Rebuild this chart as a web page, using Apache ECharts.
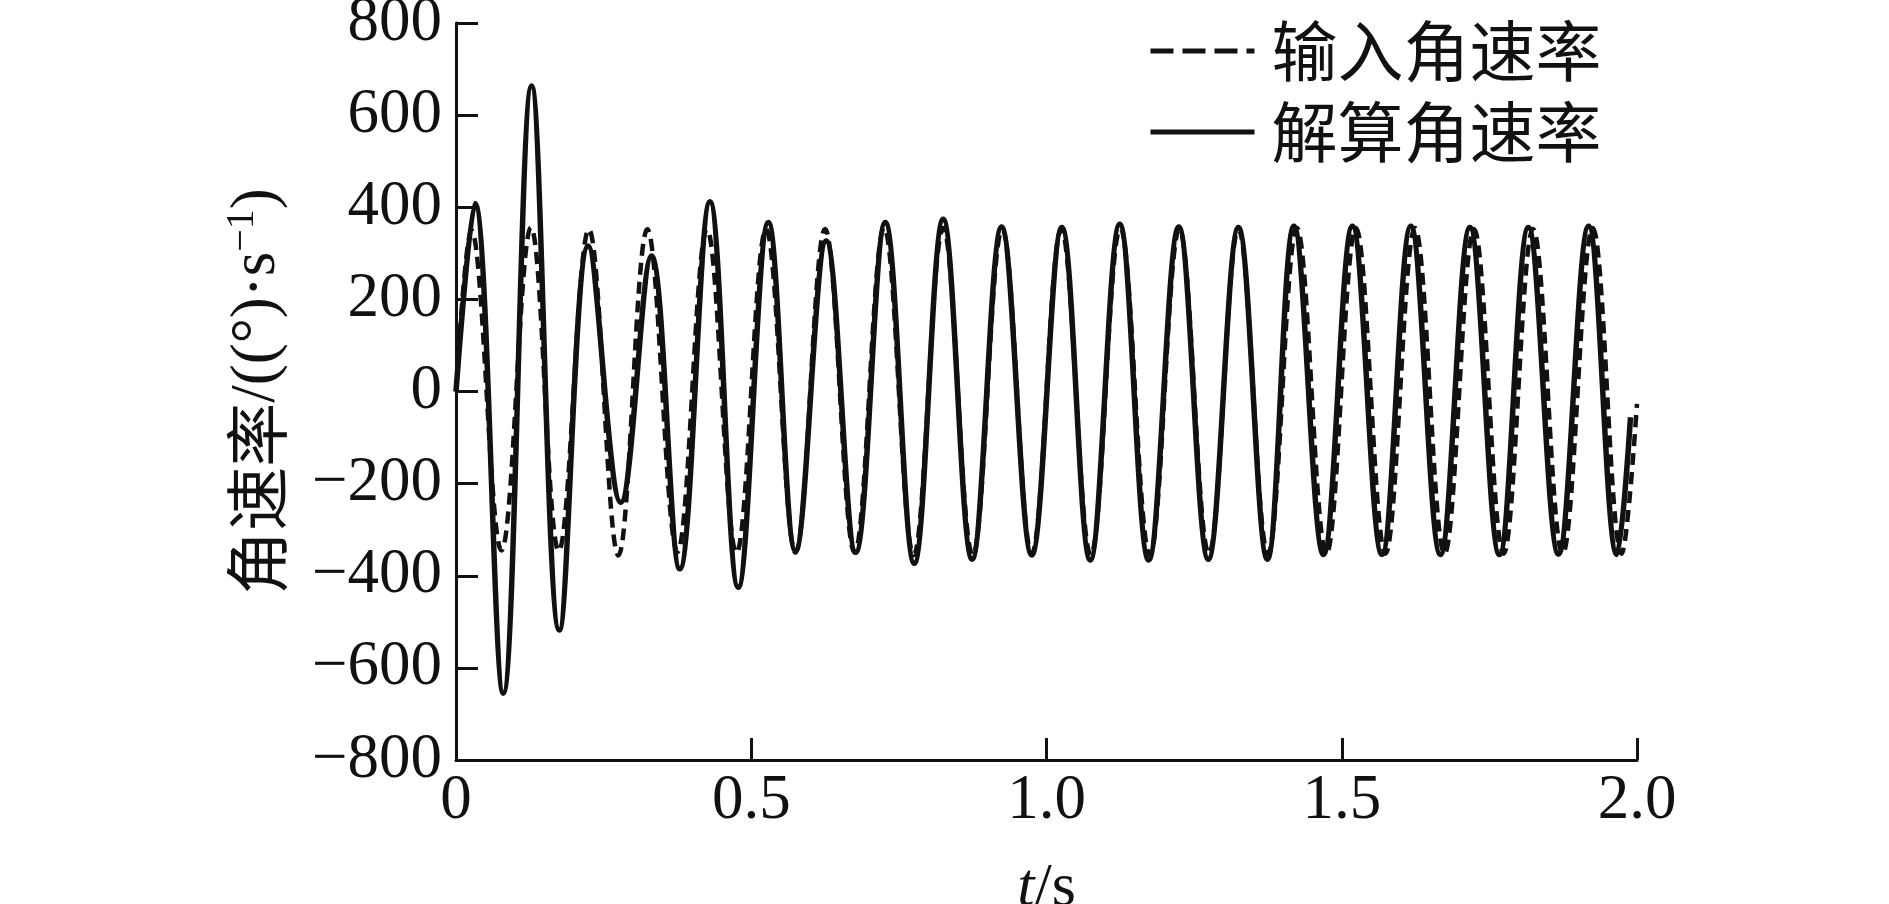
<!DOCTYPE html>
<html><head><meta charset="utf-8">
<script src="https://cdn.jsdelivr.net/npm/echarts@6/dist/echarts.min.js"></script>
<style>html,body{margin:0;padding:0;background:#fff}#c{width:1889px;height:904px}</style>
</head><body><div id="c"></div>
<script>
// series names
const seriesNames = ['输入角速率', '解算角速率'];
// input angular rate (dashed): times (s) and values (°/s) at read extremes
const inputT = [0, 0.026, 0.077, 0.127, 0.174, 0.225, 0.275, 0.324, 0.375, 0.425, 0.475, 0.525, 0.575, 0.625, 0.675, 0.725, 0.775, 0.825, 0.875, 0.925, 0.975, 1.025, 1.075, 1.125, 1.175, 1.225, 1.275, 1.325, 1.375, 1.424, 1.474, 1.524, 1.574, 1.624, 1.674, 1.724, 1.774, 1.824, 1.874, 1.925, 1.974, 2.0];
const inputV = [0, 350, -345, 356, -346, 352, -356, 352, -348, 352, -350, 352, -350, 353, -350, 355, -355, 355, -355, 352, -352, 352, -355, 355, -355, 352, -352, 352, -352, 355, -352, 355, -352, 355, -352, 353, -352, 353, -352, 355, -352, -27];
// solved angular rate (solid)
const solidT = [0, 0.032, 0.080, 0.128, 0.175, 0.224, 0.279, 0.331, 0.379, 0.430, 0.478, 0.529, 0.575, 0.627, 0.677, 0.727, 0.776, 0.825, 0.874, 0.924, 0.975, 1.026, 1.074, 1.124, 1.173, 1.224, 1.274, 1.325, 1.374, 1.419, 1.469, 1.518, 1.568, 1.617, 1.667, 1.717, 1.767, 1.816, 1.867, 1.918, 1.966, 1.989];
const solidV = [0, 408, -655, 663, -518, 316, -241, 294, -385, 412, -425, 367, -346, 327, -349, 367, -373, 374, -364, 357, -355, 356, -366, 363, -366, 357, -364, 356, -364, 359, -354, 359, -354, 359, -354, 356, -354, 356, -353, 359, -354, -56];
// tick values and labels
const xTicks = [0, 0.5, 1.0, 1.5, 2.0];
const xTickLabels = ['0', '0.5', '1.0', '1.5', '2.0'];
const yTicks = [-800, -600, -400, -200, 0, 200, 400, 600, 800];
const yTickLabels = ['\u2212800', '\u2212600', '\u2212400', '\u2212200', '0', '200', '400', '600', '800'];

const zip = (a, b) => a.map((t, i) => [t, b[i]]);
const lab = (ticks, labels) => v => {
  const i = ticks.findIndex(t => Math.abs(t - v) < 1e-9);
  return i >= 0 ? labels[i] : '';
};
const SERIF = "'Liberation Serif', 'Noto Sans CJK SC', serif";
const CJK = "'Noto Sans CJK SC', 'Liberation Serif', sans-serif";
const INK = '#111';
const hidden = {opacity: 0, color: 'rgba(0,0,0,0)', borderWidth: 0};

const chart = echarts.init(document.getElementById('c'), null, {renderer: 'canvas'});
chart.setOption({
  animation: false,
  backgroundColor: '#fff',
  color: [INK, INK],
  grid: {left: 456, right: 252, top: 23, bottom: 144, containLabel: false, outerBoundsMode: 'none'},
  legend: {
    orient: 'vertical', left: 1143, top: 13, itemWidth: 104, itemHeight: 20, itemGap: 15,
    align: 'left',
    itemStyle: hidden,
    textStyle: {fontFamily: CJK, fontSize: 66, color: INK, lineHeight: 66, padding: [0, 0, 0, 12]},
    data: [
      {name: seriesNames[0], itemStyle: hidden, lineStyle: {type: [23, 9], width: 5, color: INK}},
      {name: seriesNames[1], itemStyle: hidden, lineStyle: {width: 5, color: INK}}
    ]
  },
  xAxis: {
    type: 'value', min: 0, max: 2, interval: 0.5,
    axisLine: {show: true, onZero: false, lineStyle: {color: INK, width: 3}},
    axisTick: {show: true, inside: true, length: 22, lineStyle: {color: INK, width: 3}},
    splitLine: {show: false},
    axisLabel: {formatter: lab(xTicks, xTickLabels), fontFamily: SERIF, fontSize: 63, color: INK, margin: 10},
    name: '{i|t}{n|/s}', nameLocation: 'middle', nameGap: 98,
    nameTextStyle: {
      color: INK,
      rich: {
        i: {fontFamily: SERIF, fontSize: 62, fontStyle: 'italic', color: INK},
        n: {fontFamily: SERIF, fontSize: 62, color: INK}
      }
    }
  },
  yAxis: {
    type: 'value', min: -800, max: 800, interval: 200,
    axisLine: {show: true, onZero: false, lineStyle: {color: INK, width: 3}},
    axisTick: {show: true, inside: true, length: 22, lineStyle: {color: INK, width: 3}},
    splitLine: {show: false},
    axisLabel: {formatter: lab(yTicks, yTickLabels), fontFamily: SERIF, fontSize: 63, color: INK, margin: 14},
    name: '{c|角速率}{a|/((°)·s}{s|\u22121}{a|)}', nameLocation: 'middle', nameGap: 167,
    nameTextStyle: {
      color: INK,
      rich: {
        c: {fontFamily: CJK, fontSize: 64, color: INK, lineHeight: 66, verticalAlign: 'bottom'},
        a: {fontFamily: SERIF, fontSize: 63, color: INK, lineHeight: 66, verticalAlign: 'bottom'},
        s: {fontFamily: SERIF, fontSize: 40, color: INK, lineHeight: 66, verticalAlign: 'top'}
      }
    }
  },
  series: [
    {
      name: seriesNames[0], type: 'line', data: zip(inputT, inputV), smooth: 0.38,
      symbol: 'none', itemStyle: {color: INK}, lineStyle: {color: INK, width: 4.5, type: [12, 7]}, z: 2
    },
    {
      name: seriesNames[1], type: 'line', data: zip(solidT, solidV), smooth: 0.38,
      symbol: 'none', itemStyle: {color: INK}, lineStyle: {color: INK, width: 5.5, type: 'solid'}, z: 3
    }
  ]
});
</script></body></html>
